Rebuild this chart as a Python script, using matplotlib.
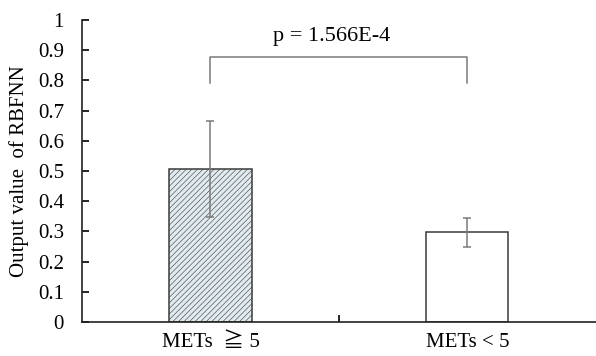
import matplotlib
matplotlib.use("Agg")
import matplotlib.pyplot as plt

categories = ["METs  \u2267 5", "METs < 5"]
means = [0.506, 0.297]
errors = [0.158, 0.049]
p_label = "p = 1.566E-4"
bracket_y = 0.878
bracket_drop = 0.79
yticks = [0, 0.1, 0.2, 0.3, 0.4, 0.5, 0.6, 0.7, 0.8, 0.9, 1]
ytick_labels = ["0", "0.1", "0.2", "0.3", "0.4", "0.5", "0.6", "0.7", "0.8", "0.9", "1"]

plt.rcParams["font.family"] = ["Liberation Serif", "DejaVu Serif", "Noto Sans CJK JP"]
plt.rcParams["hatch.color"] = "#b6c7cf"
plt.rcParams["hatch.linewidth"] = 0.4

fig = plt.figure(figsize=(5.96, 3.56), dpi=100)
ax = fig.add_axes([0.1376, 0.0955, 0.862, 0.8483])

x = list(range(len(categories)))
bars = ax.bar(x, means, width=0.32, color=["#e0eaef", "white"],
              edgecolor="#3a3a3a", linewidth=1.1)
bars[0].set_hatch("//////")
ax.errorbar(x, means, yerr=errors, fmt="none", ecolor="#7a7a7a",
            elinewidth=1.1, capsize=2.8, capthick=1.1)

# significance bracket
ax.plot([x[0], x[0], x[1], x[1]],
        [bracket_drop, bracket_y, bracket_y, bracket_drop],
        color="#7a7a7a", linewidth=1.1)
ax.text(0.47, 0.944, p_label, ha="center", va="center", fontsize=16)

ax.set_xlim(-0.5, 1.5)
ax.set_ylim(0, 1)
ax.set_yticks(yticks)
ax.set_yticklabels(ytick_labels, fontsize=15)
ax.set_xticks(x)
ax.set_xticklabels(categories, fontsize=15)
ax.tick_params(axis="x", length=0, pad=8)
ax.set_xticks([0.5], minor=True)
ax.tick_params(axis="x", which="minor", direction="in", length=5, width=1.2)
ax.tick_params(axis="y", direction="in", length=5, width=1.2, pad=13)
ax.set_ylabel("Output value  of RBFNN", fontsize=15, labelpad=6)

for side in ["top", "right"]:
    ax.spines[side].set_visible(False)
for side in ["left", "bottom"]:
    ax.spines[side].set_linewidth(1.2)
    ax.spines[side].set_color("#222222")

fig.savefig("out.png", dpi=100)
